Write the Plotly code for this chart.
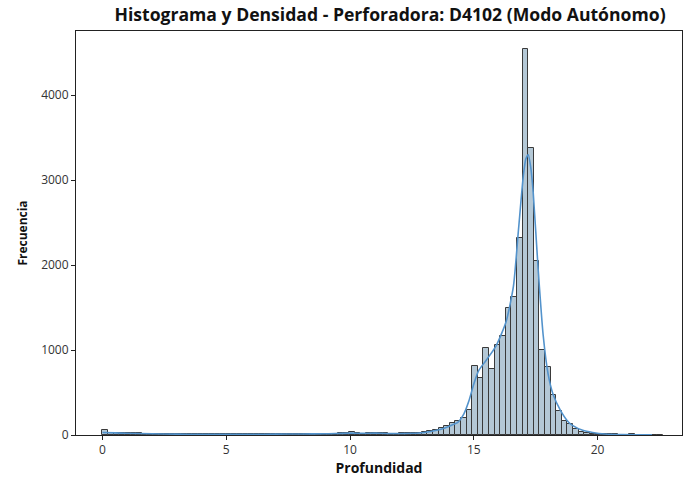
import plotly.graph_objects as go

# Histogram bins (Profundidad)
BIN_START = 0.0
BIN_WIDTH = 0.2263
counts = [
    55, 28, 25, 22, 20, 25, 18, 12, 10, 10,
    8, 8, 10, 8, 8, 10, 8, 8, 10, 8,
    8, 10, 8, 8, 10, 8, 8, 10, 8, 8,
    10, 10, 12, 10, 12, 14, 12, 14, 16, 15,
    14, 16, 18, 20, 35, 18, 16, 18, 25, 20,
    18, 16, 15, 18, 20, 22, 28, 32, 45, 55,
    80, 110, 145, 170, 200, 300, 810, 670, 1020, 780,
    1060, 1170, 1490, 1620, 2320, 4545, 3380, 2050, 995, 800,
    470, 285, 170, 124, 66, 38, 22, 14, 10, 8,
    8, 6, 5, 5, 6, 5, 5, 4, 4, 4,
]

# Density curve, scaled to counts
kde_x = [0, 0.5, 1, 2, 3, 4, 5, 6, 7, 8, 9, 10, 10.5, 11, 11.5, 12, 12.5, 13,
         13.5, 13.8, 14.1, 14.35, 14.6, 14.8, 15.0, 15.2, 15.5, 15.9, 16.3,
         16.6, 16.8, 17.0, 17.1, 17.2, 17.3, 17.4, 17.6, 17.8, 18.0, 18.2,
         18.5, 18.8, 19.0, 19.4, 19.8, 20.3, 21, 22.2]
kde_y = [30, 25, 20, 14, 10, 9, 9, 9, 10, 12, 15, 22, 20, 22, 18, 18, 20, 30,
         55, 80, 115, 150, 250, 400, 600, 760, 880, 1050, 1330,
         1750, 2400, 3050, 3250, 3300, 3150, 2850, 1950, 1180, 720, 480,
         290, 160, 110, 55, 30, 12, 5, 2]

x_ticks = [0, 5, 10, 15, 20]
y_ticks = [0, 1000, 2000, 3000, 4000]

centers = [BIN_START + (i + 0.5) * BIN_WIDTH for i in range(len(counts))]

fig = go.Figure()
fig.add_trace(go.Bar(
    x=centers, y=counts, width=BIN_WIDTH,
    marker=dict(color="#b4c8d6", line=dict(color="#3a3a3a", width=1)),
    showlegend=False, hoverinfo="skip",
))
fig.add_trace(go.Scatter(
    x=kde_x, y=kde_y, mode="lines",
    line=dict(color="#5393cc", width=1.6, shape="spline", smoothing=0.6),
    showlegend=False,
))

font_family = "Open Sans, DejaVu Sans, sans-serif"
axis_common = dict(
    showline=True, mirror=True, linecolor="#222", linewidth=1,
    ticks="outside", ticklen=4, tickcolor="#222",
    showgrid=False, zeroline=False,
    tickfont=dict(family=font_family, size=12, color="#333"),
)

fig.update_layout(
    width=694, height=484,
    margin=dict(l=76, r=11, t=31, b=44),
    paper_bgcolor="white", plot_bgcolor="white",
    bargap=0,
    title=dict(
        text="<b>Histograma y Densidad - Perforadora: D4102 (Modo Autónomo)</b>",
        x=0.562, xanchor="center", y=0.97, yanchor="middle",
        font=dict(family=font_family, size=17.6, color="#111"),
    ),
    xaxis=dict(
        range=[-1.07, 23.41], tickvals=x_ticks,
        title=dict(text="<b>Profundidad</b>", standoff=5,
                   font=dict(family=font_family, size=14, color="#111")),
        **axis_common,
    ),
    yaxis=dict(
        range=[0, 4756], tickvals=y_ticks,
        title=dict(text="<b>Frecuencia</b>", standoff=10,
                   font=dict(family=font_family, size=12, color="#111")),
        **axis_common,
    ),
)

fig.write_html("out.html")
